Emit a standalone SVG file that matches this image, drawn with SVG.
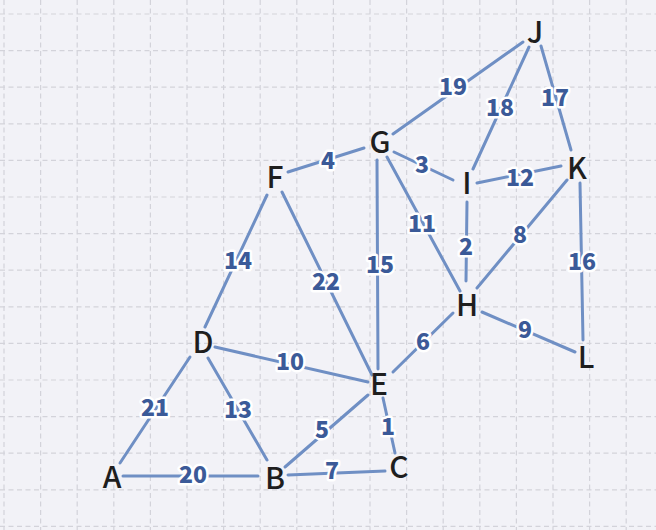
<svg xmlns="http://www.w3.org/2000/svg" width="656" height="530" viewBox="0 0 656 530">
<style>
.grid{fill:none;stroke:#d3d3da;stroke-width:1.2;stroke-dasharray:5 3.5}
.edge{stroke:#6f8fc4;stroke-width:3;stroke-linecap:round;fill:none}
.w{font-family:"Noto Sans CJK SC","Noto Sans",sans-serif;font-weight:900;font-size:23px;fill:#3b5a98;stroke:#ffffff;stroke-width:5;stroke-linejoin:round;paint-order:stroke;text-anchor:middle}
.n{font-family:"Noto Sans CJK SC","Noto Sans",sans-serif;font-weight:500;font-size:30px;fill:#1e1e1e;text-anchor:middle}
</style>
<rect width="656" height="530" fill="#f2f2f7"/>
<path class="grid" d="M4 0V530M40.6 0V530M77.2 0V530M113.8 0V530M150.4 0V530M187 0V530M223.6 0V530M260.2 0V530M296.8 0V530M333.4 0V530M370 0V530M406.6 0V530M443.2 0V530M479.8 0V530M516.4 0V530M553 0V530M589.6 0V530M626.2 0V530M0 14H656M0 50.6H656M0 87.2H656M0 123.8H656M0 160.4H656M0 197H656M0 233.6H656M0 270.2H656M0 306.8H656M0 343.4H656M0 380H656M0 416.6H656M0 453.2H656M0 489.8H656M0 526.4H656"/>
<g id="edges">
<line class="edge" x1="523" y1="42" x2="393" y2="134"/>
<line class="edge" x1="529" y1="47" x2="473" y2="169"/>
<line class="edge" x1="541" y1="46" x2="571" y2="150"/>
<line class="edge" x1="364" y1="148" x2="288" y2="172"/>
<line class="edge" x1="394" y1="152" x2="453" y2="180"/>
<line class="edge" x1="387" y1="157" x2="460" y2="291"/>
<line class="edge" x1="377" y1="160" x2="378" y2="369"/>
<line class="edge" x1="477" y1="183" x2="561" y2="166"/>
<line class="edge" x1="467" y1="202" x2="466" y2="281"/>
<line class="edge" x1="567" y1="180" x2="477" y2="288"/>
<line class="edge" x1="580" y1="183" x2="583" y2="340"/>
<line class="edge" x1="453" y1="313" x2="393" y2="372"/>
<line class="edge" x1="482" y1="312" x2="575" y2="352"/>
<line class="edge" x1="267" y1="195" x2="205" y2="327"/>
<line class="edge" x1="282" y1="192" x2="372" y2="375"/>
<line class="edge" x1="215" y1="347" x2="368" y2="382"/>
<line class="edge" x1="190" y1="357" x2="120" y2="463"/>
<line class="edge" x1="208" y1="358" x2="267" y2="460"/>
<line class="edge" x1="368" y1="395" x2="285" y2="467"/>
<line class="edge" x1="383" y1="398" x2="395" y2="453"/>
<line class="edge" x1="123" y1="476" x2="258" y2="476"/>
<line class="edge" x1="288" y1="475" x2="385" y2="471"/>
</g>
<g id="weights">
<text class="w" x="453" y="95">19</text>
<text class="w" x="500" y="116">18</text>
<text class="w" x="555" y="106">17</text>
<text class="w" x="328" y="169">4</text>
<text class="w" x="422" y="173">3</text>
<text class="w" x="422" y="232">11</text>
<text class="w" x="380" y="273">15</text>
<text class="w" x="520" y="186">12</text>
<text class="w" x="466" y="255">2</text>
<text class="w" x="520" y="243">8</text>
<text class="w" x="582" y="270">16</text>
<text class="w" x="238" y="269">14</text>
<text class="w" x="326" y="290">22</text>
<text class="w" x="423" y="350">6</text>
<text class="w" x="525" y="338">9</text>
<text class="w" x="290" y="370">10</text>
<text class="w" x="155" y="416">21</text>
<text class="w" x="238" y="418">13</text>
<text class="w" x="322" y="438">5</text>
<text class="w" x="388" y="435">1</text>
<text class="w" x="193" y="483">20</text>
<text class="w" x="332" y="479">7</text>
</g>
<g id="node-J"><text class="n" x="535" y="43">J</text></g>
<g id="node-G"><text class="n" x="380" y="153">G</text></g>
<g id="node-I"><text class="n" x="467" y="194">I</text></g>
<g id="node-K"><text class="n" x="577" y="179">K</text></g>
<g id="node-F"><text class="n" x="275" y="188">F</text></g>
<g id="node-H"><text class="n" x="467" y="316">H</text></g>
<g id="node-L"><text class="n" x="586" y="368">L</text></g>
<g id="node-D"><text class="n" x="203" y="353">D</text></g>
<g id="node-E"><text class="n" x="379" y="395">E</text></g>
<g id="node-A"><text class="n" x="112" y="488">A</text></g>
<g id="node-B"><text class="n" x="275" y="489">B</text></g>
<g id="node-C"><text class="n" x="399" y="478">C</text></g>
</svg>
